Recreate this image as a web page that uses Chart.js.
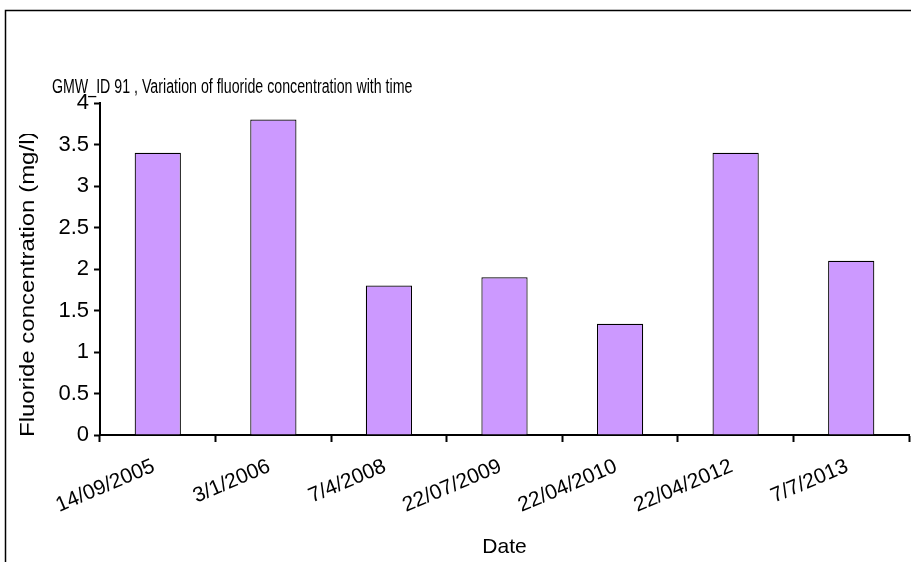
<!DOCTYPE html>
<html>
<head>
<meta charset="utf-8">
<script src="https://cdn.jsdelivr.net/npm/chart.js@4.4.1/dist/chart.umd.min.js"></script>
<style>
  html, body { margin: 0; padding: 0; background: #ffffff; }
  #wrap { position: relative; width: 911px; height: 562px; }
</style>
</head>
<body>
<div id="wrap"><canvas id="chart" width="911" height="562"></canvas></div>
<script>
// Sampling dates and measured fluoride (mg/l)
const dates = ['14/09/2005', '3/1/2006', '7/4/2008', '22/07/2009', '22/04/2010', '22/04/2012', '7/7/2013'];
const fluoride = [3.4, 3.8, 1.8, 1.9, 1.34, 3.4, 2.1];

// Axis range
const yMin = 0;
const yMax = 4;
const yStep = 0.5;

const chartTitle = 'GMW_ID 91 , Variation of fluoride concentration with time';
const yTitle = 'Fluoride concentration (mg/l)';
const xTitle = 'Date';

const FONT = '"Liberation Sans", Arial, sans-serif';

// Outer frame, chart title and the (clipped) vertical axis title
const decorations = {
  id: 'decorations',
  afterDraw(chart) {
    const ctx = chart.ctx;
    ctx.save();
    ctx.strokeStyle = '#000';
    ctx.lineWidth = 1.5;
    ctx.beginPath();
    ctx.moveTo(5.5, 562);
    ctx.lineTo(5.5, 10.5);
    ctx.lineTo(911, 10.5);
    ctx.stroke();

    // chart title, condensed
    ctx.fillStyle = '#000';
    ctx.font = '20px ' + FONT;
    ctx.textBaseline = 'alphabetic';
    ctx.textAlign = 'left';
    ctx.save();
    ctx.translate(52, 93);
    ctx.scale(0.71, 1);
    ctx.fillText(chartTitle, 0, 0);
    ctx.restore();

    // y axis title, clipped at the top of the box
    ctx.save();
    ctx.beginPath();
    ctx.rect(0, 134, 60, 428);
    ctx.clip();
    ctx.translate(34, 437);
    ctx.scale(0.82, 1);
    ctx.rotate(-Math.PI / 2);
    ctx.font = '24px ' + FONT;
    ctx.textBaseline = 'alphabetic';
    ctx.fillText(yTitle, 0, 0);
    ctx.restore();
    ctx.restore();
  }
};

new Chart(document.getElementById('chart'), {
  type: 'bar',
  data: {
    labels: dates,
    datasets: [{
      data: fluoride,
      backgroundColor: '#CC99FF',
      borderColor: '#000000',
      borderWidth: 1.2,
      barPercentage: 0.4,
      categoryPercentage: 1.0
    }]
  },
  options: {
    responsive: false,
    animation: false,
    devicePixelRatio: 1,
    layout: { padding: { left: 0, right: 2, top: 103, bottom: 0 } },
    plugins: {
      legend: { display: false },
      tooltip: { enabled: false },
      title: { display: false }
    },
    scales: {
      x: {
        type: 'category',
        offset: true,
        grid: {
          offset: true,
          drawOnChartArea: false,
          drawTicks: true,
          tickLength: 7,
          tickWidth: 2,
          tickColor: '#000'
        },
        border: { display: true, color: '#000', width: 2 },
        ticks: {
          autoSkip: false,
          minRotation: 23,
          maxRotation: 23,
          color: '#000',
          padding: 12,
          labelOffset: -4,
          font: { family: FONT, size: 21 }
        },
        title: {
          display: true,
          text: xTitle,
          color: '#000',
          font: { family: FONT, size: 21 },
          padding: { top: 0, bottom: 2 }
        },
        afterFit(scale) { scale.height = 127; }
      },
      y: {
        min: yMin,
        max: yMax,
        grid: {
          drawOnChartArea: false,
          drawTicks: true,
          tickLength: 6,
          tickWidth: 2,
          tickColor: '#000'
        },
        border: { display: true, color: '#000', width: 2 },
        ticks: {
          stepSize: yStep,
          color: '#000',
          padding: 5,
          font: { family: FONT, size: 22 },
          callback: (value) => String(value)
        },
        afterFit(scale) { scale.width = 100; }
      }
    }
  },
  plugins: [decorations]
});
</script>
</body>
</html>
